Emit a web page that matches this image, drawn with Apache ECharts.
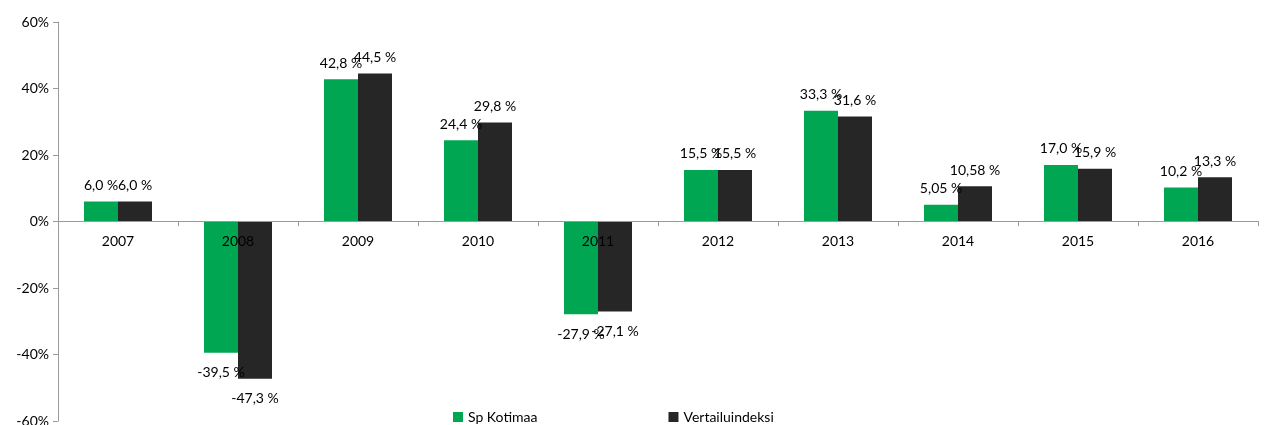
<!DOCTYPE html>
<html>
<head>
<meta charset="utf-8">
<script src="https://cdn.jsdelivr.net/npm/echarts@6/dist/echarts.min.js"></script>
<style>
    html, body { margin: 0; padding: 0; background: #ffffff; }
</style>
</head>
<body>
<div id="chart" style="width: 1264px; height: 425px"></div>
<script>
    let years = ['2007', '2008', '2009', '2010', '2011', '2012', '2013', '2014', '2015', '2016'];
    let seriesNames = ['Sp Kotimaa', 'Vertailuindeksi'];
    // yearly returns, %
    let kotimaa = [6.0, -39.5, 42.8, 24.4, -27.9, 15.5, 33.3, 5.05, 17.0, 10.2];
    let vertailu = [6.0, -47.3, 44.5, 29.8, -27.1, 15.5, 31.6, 10.58, 15.9, 13.3];
    // label texts as printed on the chart
    let kotimaaLabels = ['6,0 %', '-39,5 %', '42,8 %', '24,4 %', '-27,9 %', '15,5 %', '33,3 %', '5,05 %', '17,0 %', '10,2 %'];
    let vertailuLabels = ['6,0 %', '-47,3 %', '44,5 %', '29,8 %', '-27,1 %', '15,5 %', '31,6 %', '10,58 %', '15,9 %', '13,3 %'];

    let font = 'Lato';
    let textColor = '#000000';

    function makeData(values, labels) {
        let out = [];
        for (let i = 0; i < values.length; i++) {
            let neg = values[i] < 0;
            out.push({
                value: values[i],
                label: {
                    position: neg ? 'bottom' : 'top',
                    distance: neg ? 13 : 9,
                    formatter: labels[i]
                }
            });
        }
        return out;
    }

    let chartDom = document.getElementById('chart');
    let myChart = echarts.init(chartDom);
    let option = {
        backgroundColor: '#ffffff',
        animation: false,
        legend: {
            data: seriesNames,
            left: 448,
            top: 405,
            icon: 'rect',
            itemWidth: 10,
            itemHeight: 10,
            itemGap: 131,
            textStyle: { color: textColor, fontFamily: font, fontSize: 14 }
        },
        grid: {
            left: 58,
            right: 6,
            top: 22,
            bottom: 4,
            containLabel: false,
            outerBoundsMode: 'none'
        },
        xAxis: {
            type: 'category',
            data: years,
            z: 10,
            // zero line sits in the middle of the symmetric -60..60 range
            offset: -200,
            axisLine: {
                onZero: false,
                lineStyle: { color: '#9a9a9a', width: 1 }
            },
            axisTick: {
                show: true,
                length: 5,
                interval: 0,
                lineStyle: { color: '#9a9a9a' }
            },
            axisLabel: {
                margin: 13,
                color: textColor,
                fontFamily: font,
                fontSize: 14
            }
        },
        yAxis: {
            type: 'value',
            min: -60,
            max: 60,
            interval: 20,
            axisLine: {
                show: true,
                lineStyle: { color: '#9a9a9a', width: 1 }
            },
            axisTick: {
                show: true,
                length: 5,
                lineStyle: { color: '#9a9a9a' }
            },
            axisLabel: {
                formatter: '{value}%',
                margin: 9,
                color: textColor,
                fontFamily: font,
                fontSize: 14
            },
            splitLine: { show: false }
        },
        series: [
            {
                name: seriesNames[0],
                type: 'bar',
                data: makeData(kotimaa, kotimaaLabels),
                barWidth: 34,
                barGap: '0%',
                itemStyle: { color: '#00a651' },
                label: { show: true, color: textColor, fontFamily: font, fontSize: 14 }
            },
            {
                name: seriesNames[1],
                type: 'bar',
                data: makeData(vertailu, vertailuLabels),
                barWidth: 34,
                barGap: '0%',
                itemStyle: { color: '#262626' },
                label: { show: true, color: textColor, fontFamily: font, fontSize: 14 }
            }
        ]
    };

    option && myChart.setOption(option);
</script>
</body>
</html>
